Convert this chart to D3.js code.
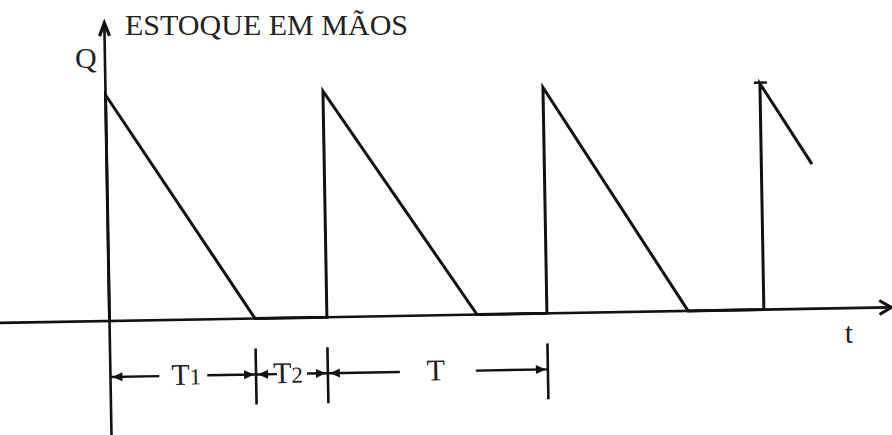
<!DOCTYPE html>
<html>
<head>
<meta charset="utf-8">
<script src="https://cdn.jsdelivr.net/npm/d3@7"></script>
<style>
  html, body { margin: 0; padding: 0; background: #fff; }
  #chart { width: 892px; height: 435px; }
</style>
</head>
<body>
<div id="chart"></div>
<script>
// values (time in arbitrary units, stock in % of Q)
const restockTimes = [0, 9.96, 20.04, 29.98];
const peakLevels = [100, 100, 100, 100];
const depletionTimes = [6.67, 16.84, 26.51];
const lastTime = 32.3;
const lastLevel = 64;

// dimension line under the axis
const dimTicks = [0, 6.67, 9.96, 20.04];
const dimNames = ["T", "T", "T"];
const dimSubs = ["1", "2", ""];
const dimGaps = [24, 15, 38];
const dimShift = [3, -4, -2];

class StockChart {
  constructor(el) {
    this.el = el;
    this.draw();
  }
  draw() {
    const that = this;
    that.width = 892;
    that.height = 435;
    that.font = "'Liberation Serif', 'DejaVu Serif', serif";

    that.svg = d3
      .select(`#${that.el}`)
      .append("svg")
      .attr("width", that.width)
      .attr("height", that.height)
      .attr("viewBox", [0, 0, that.width, that.height]);

    // the scan is slightly turned, so everything sits in a rotated group
    that.g = that.svg
      .append("g")
      .attr("transform", "translate(109.5,321) rotate(-1)");

    that.x = d3.scaleLinear().domain([0, 10]).range([0, 218.3]);
    that.y = d3.scaleLinear().domain([0, 100]).range([0, -226]);

    // axes
    that.g.append("line")
      .attr("x1", -110).attr("x2", 780).attr("y1", 0).attr("y2", 0)
      .attr("stroke", "#111").attr("stroke-width", 2.6);
    that.g.append("path")
      .attr("d", "M770,-7 L782,0 L770,7")
      .attr("fill", "none").attr("stroke", "#111").attr("stroke-width", 3);
    that.g.append("line")
      .attr("x1", 0).attr("x2", 0).attr("y1", -296).attr("y2", 116)
      .attr("stroke", "#111").attr("stroke-width", 2.6);
    that.g.append("path")
      .attr("d", "M-5,-285 L0,-298 L5,-285")
      .attr("fill", "none").attr("stroke", "#111").attr("stroke-width", 3.2);

    // saw tooth
    const pts = [];
    restockTimes.forEach((t, i) => {
      pts.push([t, 0]);
      pts.push([t, peakLevels[i]]);
      if (i < depletionTimes.length) pts.push([depletionTimes[i], 0]);
      else pts.push([lastTime, lastLevel]);
    });
    const line = d3.line().x((d) => that.x(d[0])).y((d) => that.y(d[1]));
    that.g.append("path")
      .attr("d", line(pts))
      .attr("fill", "none")
      .attr("stroke", "#111")
      .attr("stroke-width", 3)
      .attr("stroke-linejoin", "miter");

    // little cap on the last peak
    const lastT = restockTimes[restockTimes.length - 1];
    that.g.append("line")
      .attr("x1", that.x(lastT) - 6).attr("x2", that.x(lastT) + 7)
      .attr("y1", that.y(peakLevels[peakLevels.length - 1]) - 1)
      .attr("y2", that.y(peakLevels[peakLevels.length - 1]) - 1)
      .attr("stroke", "#111").attr("stroke-width", 2.4);

    that.drawDims();

    // labels
    that.svg.append("text")
      .attr("x", 125).attr("y", 35)
      .attr("textLength", 283)
      .attr("lengthAdjust", "spacing")
      .style("font-family", that.font).style("font-size", "30px")
      .attr("fill", "#222")
      .text("ESTOQUE EM MÃOS");
    that.svg.append("text")
      .attr("x", 75).attr("y", 68)
      .style("font-family", that.font).style("font-size", "30px")
      .attr("fill", "#222")
      .text("Q");
    that.svg.append("text")
      .attr("x", 849).attr("y", 343)
      .attr("text-anchor", "middle")
      .style("font-family", that.font).style("font-size", "30px")
      .attr("fill", "#222")
      .text("t");
  }
  drawDims() {
    const that = this;
    const dy = 56;
    const dg = that.g.append("g");

    dimTicks.slice(1).forEach((t) => {
      dg.append("line")
        .attr("x1", that.x(t)).attr("x2", that.x(t))
        .attr("y1", 30).attr("y2", 86)
        .attr("stroke", "#111").attr("stroke-width", 2.6);
    });

    const head = (x, dir) =>
      `M${x},${dy} L${x - dir * 10},${dy - 4.5} L${x - dir * 10},${dy + 4.5} Z`;

    dimNames.forEach((name, i) => {
      const x0 = that.x(dimTicks[i]);
      const x1 = i + 1 < dimTicks.length ? that.x(dimTicks[i + 1]) : that.x(dimTicks[i] + 10);
      const mid = (x0 + x1) / 2;
      dg.append("line")
        .attr("x1", x0).attr("x2", mid - dimGaps[i])
        .attr("y1", dy).attr("y2", dy)
        .attr("stroke", "#111").attr("stroke-width", 2.4);
      dg.append("line")
        .attr("x1", mid + dimGaps[i]).attr("x2", x1)
        .attr("y1", dy).attr("y2", dy)
        .attr("stroke", "#111").attr("stroke-width", 2.4);
      dg.append("path").attr("d", head(x0 + 2, -1)).attr("fill", "#111");
      dg.append("path").attr("d", head(x1 - 2, 1)).attr("fill", "#111");

      const label = dg.append("text")
        .attr("x", mid + dimShift[i])
        .attr("y", dy + 9)
        .attr("text-anchor", "middle")
        .style("font-family", that.font)
        .attr("fill", "#222");
      label.append("tspan").style("font-size", "30px").text(name);
      if (dimSubs[i]) {
        label.append("tspan")
          .style("font-size", "23px")
          .text(dimSubs[i]);
      }
    });
  }
}

new StockChart("chart");
</script>
</body>
</html>
